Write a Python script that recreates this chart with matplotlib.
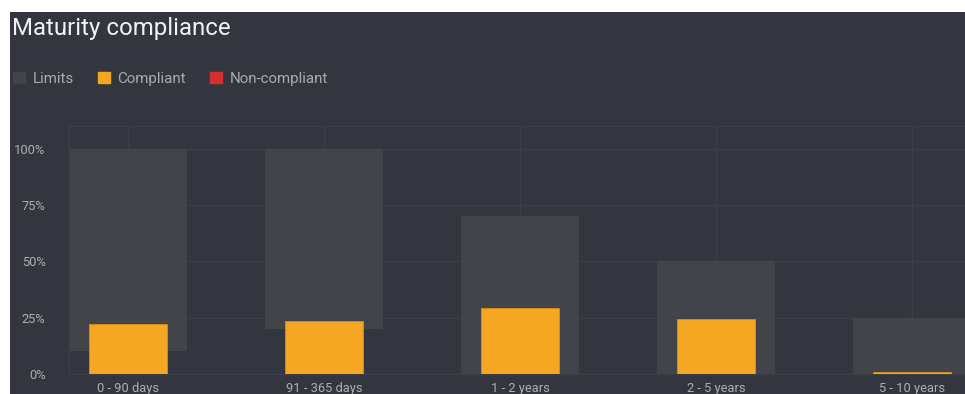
import matplotlib.pyplot as plt
from matplotlib.patches import Rectangle, Patch

plt.rcParams['font.family'] = ['Roboto', 'DejaVu Sans']

# Datos del grafico
categorias = ["0 - 90 days", "91 - 365 days", "1 - 2 years", "2 - 5 years", "5 - 10 years"]
limite_inferior = [10, 20, 0, 0, 0]
limite_superior = [100, 100, 70, 50, 25]
cumple = [22, 23.5, 29.2, 24.4, 0.9]
no_cumple = [0, 0, 0, 0, 0]
ticks_y = [0, 25, 50, 75, 100]

fondo = "#33363e"
gris_limite = "#434449"
naranja = "#f5a623"
rojo = "#d32f2f"
rejilla = "#3c3f47"

fig = plt.figure(figsize=(9.65, 3.94), dpi=100, facecolor="white")
# Panel oscuro (deja un borde blanco arriba y a la izquierda)
fig.patches.append(Rectangle((10 / 965, 0), 1 - 10 / 965, (394 - 12) / 394,
                             transform=fig.transFigure, facecolor=fondo,
                             edgecolor="none", zorder=-1))

ax = fig.add_axes([69 / 965, 20 / 394, 1 - 69 / 965, 248 / 394])
ax.set_facecolor(fondo)
ax.patch.set_alpha(0)

x = list(range(len(categorias)))
alturas = [s - i for s, i in zip(limite_superior, limite_inferior)]
ax.bar(x, alturas, bottom=limite_inferior, width=0.6, color=gris_limite, zorder=2)
ax.bar(x, cumple, width=0.4, color=naranja, edgecolor="#d98d10", linewidth=0.6, zorder=3)
ax.bar(x, no_cumple, bottom=cumple, width=0.4, color=rojo, linewidth=0, zorder=3)

ax.set_xlim(-0.301, 4.27)
ax.set_ylim(0, 110)
ax.set_yticks(ticks_y)
ax.set_yticklabels([f"{t}%" for t in ticks_y])
ax.set_xticks(x)
ax.set_xticklabels(categorias)
ax.tick_params(length=0, colors="#aeafb2", labelsize=9.3)
ax.tick_params(axis="y", pad=17)
ax.tick_params(axis="x", pad=6)
ax.grid(True, color=rejilla, linewidth=1, zorder=1)
ax.set_axisbelow(True)
for lado in ax.spines.values():
    lado.set_color(rejilla)
    lado.set_linewidth(1)
ax.spines["right"].set_visible(False)

fig.text(12 / 965, 1 - 28 / 394, "Maturity compliance", color="#f2f2f2",
         fontsize=17.3, va="center", ha="left")

manejadores = [Patch(color=gris_limite, label="Limits"),
               Patch(color=naranja, label="Compliant"),
               Patch(color=rojo, label="Non-compliant")]
fig.legend(handles=manejadores, loc="center left", ncol=3, frameon=False,
           bbox_to_anchor=(13 / 965, 1 - 79 / 394), fontsize=10.9,
           labelcolor="#a9aaad", handlelength=0.78, handleheight=0.78,
           handletextpad=0.5, columnspacing=1.6, borderpad=0, borderaxespad=0)

fig.savefig("out.png", dpi=100, facecolor="white")
